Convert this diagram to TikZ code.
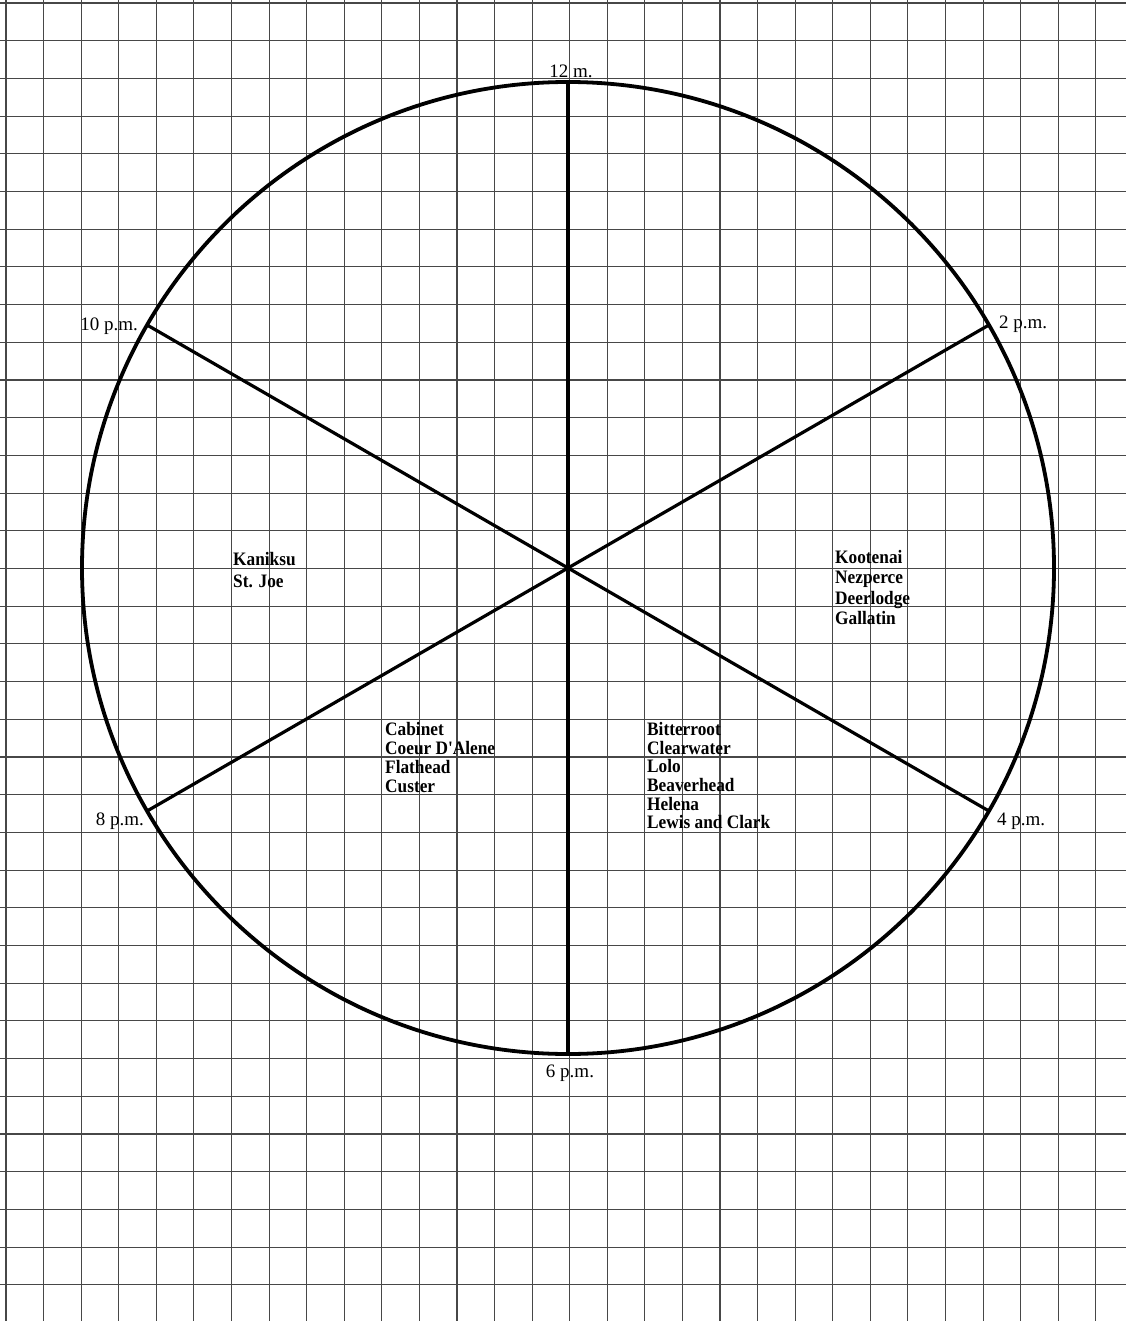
\documentclass[tikz,border=0pt]{standalone}
\usepackage{fontspec}
\setmainfont{Liberation Serif}
\newfontfamily\namefont[FakeStretch=0.91]{Liberation Serif}
\begin{document}
\begin{tikzpicture}[x=1pt,y=-1pt,
  gridline/.style={line width=1.1pt,draw=black!72},
  heavy/.style={line width=3.8pt,draw=black},
  spoke/.style={line width=3.2pt,draw=black},
  timelabel/.style={inner sep=0pt,font=\fontsize{19}{22}\selectfont},
  names/.style={inner sep=0pt,align=left,anchor=north west}]
\useasboundingbox (0,0) rectangle (1126,1321);
\fill[white] (0,0) rectangle (1126,1321);
% graph paper
\foreach \i in {0,...,29}
  \draw[gridline] ({6+37.58*\i},0) -- ({6+37.58*\i},1321);
\foreach \j in {0,...,34}
  \draw[gridline] (0,{3+37.7*\j}) -- (1126,{3+37.7*\j});
% clock face
\coordinate (O) at (568,568);
\coordinate (t12) at (568,82);
\coordinate (t6) at (568,1054);
\coordinate (t2) at (988.9,325);
\coordinate (t10) at (147.1,325);
\coordinate (t4) at (988.9,811);
\coordinate (t8) at (147.1,811);
\draw[heavy] (O) circle[radius=486pt];
\draw[spoke] (t12) -- (t6);
\draw[spoke] (t10) -- (t4);
\draw[spoke] (t2) -- (t8);
% time labels
\node[timelabel,anchor=base] (l12) at (571,78) {12 m.};
\node[timelabel,anchor=base east] (l10) at (138,330) {10 p.m.};
\node[timelabel,anchor=base west] (l2) at (999,328) {2 p.m.};
\node[timelabel,anchor=base east] (l8) at (144,825) {8 p.m.};
\node[timelabel,anchor=base west] (l4) at (997,825) {4 p.m.};
\node[timelabel,anchor=base] (l6) at (570,1077) {6 p.m.};
% forest names
\node[names,font=\namefont\bfseries\fontsize{19}{21.7}\selectfont] (kan) at (233,552)
  {Kaniksu\\St. Joe};
\node[names,font=\namefont\bfseries\fontsize{19}{20.5}\selectfont] (koo) at (835,550)
  {Kootenai\\Nezperce\\Deerlodge\\Gallatin};
\node[names,font=\namefont\bfseries\fontsize{19}{19}\selectfont] (cab) at (385,722)
  {Cabinet\\Coeur D'Alene\\Flathead\\Custer};
\node[names,font=\namefont\bfseries\fontsize{19}{18.7}\selectfont] (bit) at (647,722)
  {Bitterroot\\Clearwater\\Lolo\\Beaverhead\\Helena\\Lewis and Clark};
\end{tikzpicture}
\end{document}
